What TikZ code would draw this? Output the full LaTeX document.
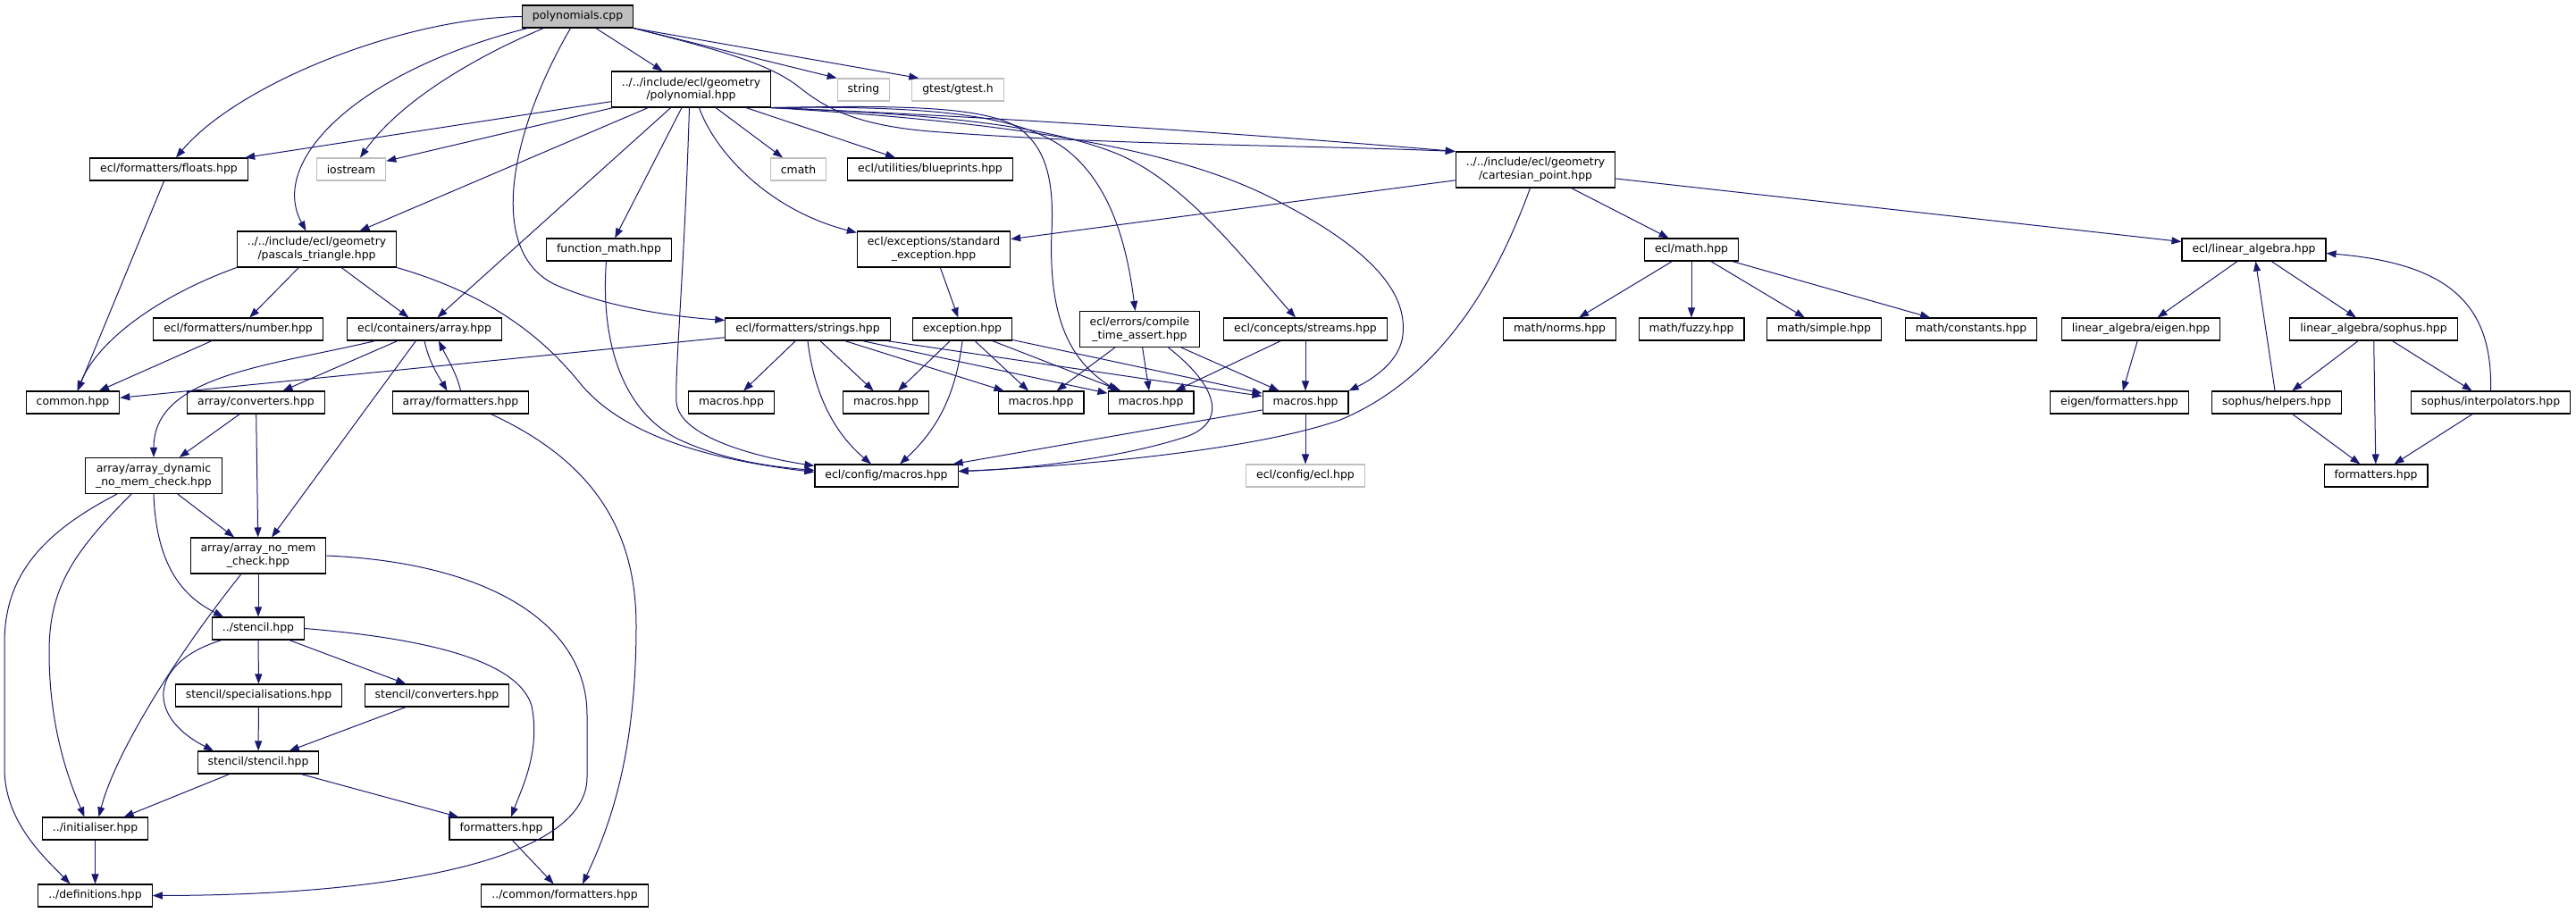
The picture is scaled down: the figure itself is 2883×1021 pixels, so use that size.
\documentclass[tikz,border=0pt]{standalone}
\usepackage{fontspec}
\setmainfont{DejaVu Sans}
\usetikzlibrary{arrows.meta}
\definecolor{edgeblue}{HTML}{191970}
\definecolor{sysgray}{HTML}{BFBFBF}
\tikzset{
	hdr/.style={draw=black, line width=1.1pt, fill=white, inner xsep=11.5pt, inner ysep=0pt,
		minimum height=25pt, align=center, font=\fontsize{12.4}{14.7}\selectfont},
	hdrtwo/.style={hdr, minimum height=40pt},
	sys/.style={hdr, draw=sysgray},
	root/.style={hdr, fill=sysgray},
	dep/.style={draw=edgeblue, line width=1pt, -{Triangle[length=11pt,width=8pt]}}
}
\begin{document}
\begin{tikzpicture}[x=1pt,y=-1pt]
	\useasboundingbox (0,0) rectangle (2883,1021);

	\node[root] (polycpp) at (646.5,18.5) {polynomials.cpp};
	\node[hdrtwo] (polyhpp) at (773.5,100) {../../include/ecl/geometry\\/polynomial.hpp};
	\node[sys] (string) at (966.5,100.5) {string};
	\node[sys] (gtest) at (1072,100.5) {gtest/gtest.h};
	\node[hdr] (floats) at (189,189.5) {ecl/formatters/floats.hpp};
	\node[sys] (iostream) at (393,189.5) {iostream};
	\node[sys] (cmath) at (893.5,189.5) {cmath};
	\node[hdr] (blueprints) at (1041,189.5) {ecl/utilities/blueprints.hpp};
	\node[hdrtwo] (cartesian) at (1718.5,190) {../../include/ecl/geometry\\/cartesian\_point.hpp};
	\node[hdrtwo] (pascals) at (354.5,279) {../../include/ecl/geometry\\/pascals\_triangle.hpp};
	\node[hdr] (funcmath) at (681.5,279.5) {function\_math.hpp};
	\node[hdrtwo] (stdexc) at (1045,279) {ecl/exceptions/standard\\\_exception.hpp};
	\node[hdr] (eclmath) at (1893,279.5) {ecl/math.hpp};
	\node[hdr] (linalg) at (2522.5,279.5) {ecl/linear\_algebra.hpp};

	\node[hdr] (number) at (266.5,368.5) {ecl/formatters/number.hpp};
	\node[hdr] (array) at (475,368.5) {ecl/containers/array.hpp};
	\node[hdr] (strings) at (904,368.5) {ecl/formatters/strings.hpp};
	\node[hdr] (exception) at (1077,368.5) {exception.hpp};
	\node[hdrtwo] (compile) at (1275.5,368.5) {ecl/errors/compile\\\_time\_assert.hpp};
	\node[hdr] (streams) at (1461,368.5) {ecl/concepts/streams.hpp};
	\node[hdr] (norms) at (1745.5,368.5) {math/norms.hpp};
	\node[hdr] (fuzzy) at (1893,368.5) {math/fuzzy.hpp};
	\node[hdr] (simple) at (2041.5,368.5) {math/simple.hpp};
	\node[hdr] (constants) at (2206,368.5) {math/constants.hpp};
	\node[hdr] (eigen) at (2396,368.5) {linear\_algebra/eigen.hpp};
	\node[hdr] (sophus) at (2656.5,368.5) {linear\_algebra/sophus.hpp};

	\node[hdr] (common) at (81.5,450.5) {common.hpp};
	\node[hdr] (arrconv) at (286.5,450.5) {array/converters.hpp};
	\node[hdr] (arrfmt) at (515.5,450.5) {array/formatters.hpp};
	\node[hdr] (macrosA) at (818.5,450.5) {macros.hpp};
	\node[hdr] (macrosB) at (991.5,450.5) {macros.hpp};
	\node[hdr] (macrosC) at (1165,450.5) {macros.hpp};
	\node[hdr] (macrosD) at (1288,450.5) {macros.hpp};
	\node[hdr] (macrosE) at (1461,450.5) {macros.hpp};
	\node[hdr] (eigenfmt) at (2372,450.5) {eigen/formatters.hpp};
	\node[hdr] (helpers) at (2548,450.5) {sophus/helpers.hpp};
	\node[hdr] (interp) at (2787.5,450.5) {sophus/interpolators.hpp};

	\node[hdrtwo] (arrdyn) at (172,532.5) {array/array\_dynamic\\\_no\_mem\_check.hpp};
	\node[hdr] (cfgmacros) at (992,532.5) {ecl/config/macros.hpp};
	\node[sys] (cfgecl) at (1461,532.5) {ecl/config/ecl.hpp};
	\node[hdr] (sophfmt) at (2659,532.5) {formatters.hpp};

	\node[hdrtwo] (arrnomem) at (289,622) {array/array\_no\_mem\\\_check.hpp};
	\node[hdr] (stencil) at (289,703.5) {../stencil.hpp};
	\node[hdr] (stspec) at (289.5,778.5) {stencil/specialisations.hpp};
	\node[hdr] (stconv) at (489,778.5) {stencil/converters.hpp};
	\node[hdr] (ststencil) at (289,853.5) {stencil/stencil.hpp};
	\node[hdr] (initialiser) at (106.5,927.5) {../initialiser.hpp};
	\node[hdr] (stfmt) at (561,927.5) {formatters.hpp};
	\node[hdr] (definitions) at (106.5,1002.5) {../definitions.hpp};
	\node[hdr] (commonfmt) at (632,1002.5) {../common/formatters.hpp};

	% polynomials.cpp
	\draw[dep] (polycpp.west) .. controls (450,20) and (265,95) .. ([xshift=8pt]floats.north);
	\draw[dep] ([xshift=-56pt]polycpp.south) .. controls (400,80) and (300,180) .. ([xshift=-12pt]pascals.north);
	\draw[dep] ([xshift=-38pt]polycpp.south) .. controls (540,60) and (450,110) .. ([xshift=10pt]iostream.north);
	\draw[dep] ([xshift=-8pt]polycpp.south) .. controls (570,150) and (545,280) .. (620,318)
		.. controls (680,345) and (760,355) .. ([yshift=10pt]strings.west);
	\draw[dep] (polycpp) -- (polyhpp);
	\draw[dep] (polycpp.south east) -- (string.north west);
	\draw[dep] (polycpp.south east) -- ([xshift=8pt]gtest.north west);
	\draw[dep] (polycpp.south east) .. controls (800,55) and (860,70) .. (895,98)
		.. controls (925,122) and (960,140) .. (1040,147)
		.. controls (1250,163) and (1450,162) .. (cartesian.north west);

	% polynomial.hpp
	\draw[dep] (polyhpp) -- (floats);
	\draw[dep] (polyhpp) -- (iostream);
	\draw[dep] (polyhpp) -- (pascals);
	\draw[dep] (polyhpp) -- (array);
	\draw[dep] (polyhpp) -- (funcmath);
	\draw[dep] (polyhpp) -- (cmath);
	\draw[dep] (polyhpp) -- (blueprints);
	\draw[dep] ([xshift=-2pt]polyhpp.south) .. controls (766,300) and (755,420) .. (757,450)
		.. controls (760,490) and (850,512) .. ([yshift=-2pt]cfgmacros.north west);
	\draw[dep] ([xshift=9pt]polyhpp.south) .. controls (800,170) and (860,235) .. ([yshift=-2pt]stdexc.north west);
	\draw[dep] (polyhpp.south east) .. controls (1100,130) and (1400,150) .. (cartesian.north west);
	\draw[dep] (polyhpp.south east) .. controls (1000,118) and (1100,118) .. (1140,143)
		.. controls (1170,165) and (1180,200) .. (1177,260)
		.. controls (1173,360) and (1200,405) .. ([xshift=11pt]macrosD.north west);
	\draw[dep] (polyhpp.south east) .. controls (1050,118) and (1140,130) .. (1190,165)
		.. controls (1245,205) and (1262,280) .. ([xshift=-5pt]compile.north);
	\draw[dep] (polyhpp.south east) .. controls (1050,128) and (1170,140) .. (1250,172)
		.. controls (1330,205) and (1400,300) .. ([xshift=-11pt]streams.north);
	\draw[dep] (polyhpp.south east) .. controls (1100,135) and (1300,160) .. (1420,220)
		.. controls (1540,280) and (1575,330) .. (1570,375)
		.. controls (1567,405) and (1535,425) .. (macrosE.north east);

	% cartesian_point.hpp
	\draw[dep] (cartesian) -- (stdexc);
	\draw[dep] (cartesian) -- (eclmath);
	\draw[dep] (cartesian) -- (linalg);
	\draw[dep] ([xshift=-6pt]cartesian.south) .. controls (1680,300) and (1620,420) .. (1500,470)
		.. controls (1400,505) and (1200,522) .. ([yshift=5pt]cfgmacros.east);

	% math and linear algebra
	\draw[dep] (eclmath) -- (norms);
	\draw[dep] (eclmath) -- (fuzzy);
	\draw[dep] (eclmath) -- (simple);
	\draw[dep] (eclmath) -- (constants);
	\draw[dep] (linalg) -- (eigen);
	\draw[dep] (linalg) -- (sophus);
	\draw[dep] (eigen) -- (eigenfmt);
	\draw[dep] (sophus) -- (helpers);
	\draw[dep] (sophus) -- (sophfmt);
	\draw[dep] (sophus) -- (interp);
	\draw[dep] (helpers) -- (linalg);
	\draw[dep] (helpers) -- (sophfmt);
	\draw[dep] (interp) -- (sophfmt);
	\draw[dep] (interp.north) .. controls (2790,340) and (2740,295) .. ([yshift=-4pt]linalg.east);

	% pascals_triangle.hpp
	\draw[dep] (pascals.south west) .. controls (180,330) and (110,380) .. ([xshift=5pt]common.north);
	\draw[dep] (pascals) -- (number);
	\draw[dep] (pascals) -- (array);
	\draw[dep] (pascals.south east) .. controls (550,330) and (610,380) .. (650,430)
		.. controls (700,490) and (800,515) .. ([yshift=4pt]cfgmacros.west);
	\draw[dep] ([xshift=-3pt]funcmath.south) .. controls (672,380) and (695,460) .. (760,492)
		.. controls (810,515) and (860,522) .. ([yshift=6pt]cfgmacros.west);
	\draw[dep] (floats) -- (common);
	\draw[dep] (number) -- (common);
	\draw[dep] (strings) -- (common);

	% containers
	\draw[dep] ([xshift=-55pt]array.south) .. controls (300,410) and (172,420) .. (arrdyn.north);
	\draw[dep] (array) -- (arrconv);
	\draw[dep] (array) -- (arrnomem);
	\draw[dep] (array.south) .. controls (480,405) and (490,420) .. ([xshift=-15pt]arrfmt.north);
	\draw[dep] (arrfmt.north) .. controls (512,420) and (500,400) .. ([xshift=16pt]array.south);
	\draw[dep] (arrconv) -- (arrdyn);
	\draw[dep] (arrconv) -- (arrnomem);
	\draw[dep] ([xshift=34pt]arrfmt.south) .. controls (650,510) and (712,580) .. (712,700)
		.. controls (712,850) and (680,930) .. ([xshift=20pt]commonfmt.north);
	\draw[dep] ([xshift=-41pt]arrdyn.south) .. controls (40,600) and (5,650) .. (5,720) -- (5,860)
		.. controls (5,920) and (50,960) .. ([xshift=-28pt]definitions.north);
	\draw[dep] ([xshift=-25pt]arrdyn.south) .. controls (80,620) and (55,660) .. (55,730)
		.. controls (55,820) and (80,880) .. ([xshift=-12pt]initialiser.north);
	\draw[dep] (arrdyn.south) .. controls (175,640) and (210,670) .. ([xshift=-39pt]stencil.north);
	\draw[dep] (arrdyn) -- (arrnomem);
	\draw[dep] (arrnomem) -- (stencil);
	\draw[dep] ([xshift=-19pt]arrnomem.south) .. controls (200,730) and (130,840) .. ([xshift=4pt]initialiser.north);
	\draw[dep] (arrnomem.east) .. controls (550,630) and (657,700) .. (657,800) -- (657,870)
		.. controls (657,960) and (450,1002) .. (definitions.east);

	% stencil
	\draw[dep] (stencil) -- (stspec);
	\draw[dep] (stencil) -- (stconv);
	\draw[dep] ([xshift=-41pt]stencil.south) .. controls (170,740) and (160,800) .. ([xshift=-50pt]ststencil.north);
	\draw[dep] (stencil.east) .. controls (480,715) and (580,740) .. (595,790)
		.. controls (605,840) and (585,880) .. ([xshift=11pt]stfmt.north);
	\draw[dep] (stspec) -- (ststencil);
	\draw[dep] (stconv) -- (ststencil);
	\draw[dep] (ststencil) -- (initialiser);
	\draw[dep] (ststencil) -- (stfmt);
	\draw[dep] (initialiser) -- (definitions);
	\draw[dep] (stfmt) -- (commonfmt);

	% strings, exceptions, macros
	\draw[dep] (strings) -- (macrosA);
	\draw[dep] (strings) -- (macrosB);
	\draw[dep] (strings) -- (macrosC);
	\draw[dep] (strings) -- (macrosD);
	\draw[dep] (strings) -- (macrosE);
	\draw[dep] (strings.south) .. controls (912,450) and (940,490) .. ([xshift=-17pt]cfgmacros.north);
	\draw[dep] (stdexc) -- (exception);
	\draw[dep] (exception) -- (macrosB);
	\draw[dep] (exception) -- (macrosC);
	\draw[dep] (exception) -- (macrosD);
	\draw[dep] (exception) -- (macrosE);
	\draw[dep] (exception.south) .. controls (1070,440) and (1050,480) .. ([xshift=15pt]cfgmacros.north);
	\draw[dep] (compile) -- (macrosC);
	\draw[dep] (compile) -- (macrosD);
	\draw[dep] (compile) -- (macrosE);
	\draw[dep] ([xshift=32pt]compile.south) .. controls (1360,430) and (1375,470) .. (1330,488)
		.. controls (1250,515) and (1130,526) .. ([yshift=5pt]cfgmacros.east);
	\draw[dep] (streams) -- (macrosD);
	\draw[dep] (streams) -- (macrosE);
	\draw[dep] (macrosE) -- (cfgecl);
	\draw[dep] (macrosE) -- (cfgmacros);
\end{tikzpicture}
\end{document}
